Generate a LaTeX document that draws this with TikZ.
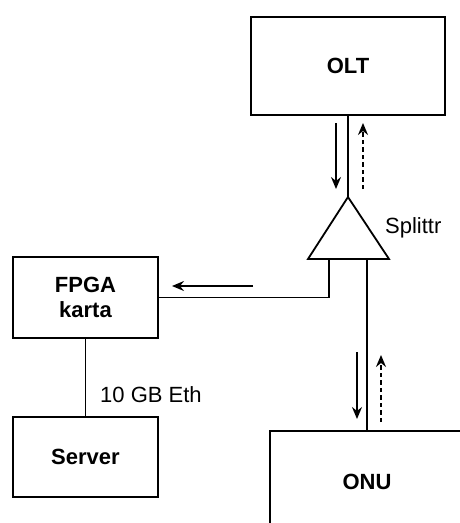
\documentclass[tikz,border=0pt]{standalone}
\usepackage{fontspec}
\setmainfont{Liberation Sans}
\usetikzlibrary{arrows.meta}
\pgfdeclarelayer{edgelayer}
\pgfdeclarelayer{nodelayer}
\pgfsetlayers{edgelayer,nodelayer,main}
\tikzset{font=\fontsize{22}{25}\selectfont}
\tikzstyle{none}=[inner sep=0pt]
\tikzstyle{box}=[draw,line width=1.8pt,inner sep=0pt,align=center,font=\fontsize{22}{25}\selectfont\bfseries]
\tikzstyle{wire}=[line width=1.8pt]
\tikzstyle{flow}=[line width=1.8pt,-{Stealth[length=12pt,width=10pt,inset=4pt]}]
\tikzstyle{back}=[flow,dash pattern=on 4.5pt off 3pt]

\begin{document}
\begin{tikzpicture}[x=1pt,y=-1pt]
	\useasboundingbox (0,0) rectangle (459,523);
	\clip (0,0) rectangle (459,523);
	\begin{pgfonlayer}{nodelayer}
		\node [style=box, minimum width=194pt, minimum height=98pt] (0) at (348, 66) {OLT};
		\node [style=box, minimum width=145pt, minimum height=81pt] (1) at (85.5, 297.5) {FPGA\\karta};
		\node [style=box, minimum width=145pt, minimum height=80pt] (2) at (85.5, 457) {Server};
		\node [style=box, minimum width=194pt, minimum height=102pt] (3) at (367, 482) {ONU};
		\node [style=none] (4) at (348, 197) {};
		\node [style=none] (5) at (308, 259) {};
		\node [style=none] (6) at (389, 259) {};
		\node [style=none] (7) at (329, 259) {};
		\node [style=none] (8) at (367, 259) {};
		\node [style=none, anchor=west] (9) at (385, 228) {Splittr};
		\node [style=none, anchor=west] (10) at (100, 395) {10 GB Eth};
		\coordinate (11) at (336, 123);
		\coordinate (12) at (336, 189);
		\coordinate (13) at (363, 189);
		\coordinate (14) at (363, 123);
		\coordinate (15) at (253, 286);
		\coordinate (16) at (172, 286);
		\coordinate (17) at (357, 352);
		\coordinate (18) at (357, 419);
		\coordinate (19) at (381, 422);
		\coordinate (20) at (381, 355);
	\end{pgfonlayer}
	\begin{pgfonlayer}{edgelayer}
		\draw [style=wire] (0.south) to (4.center);
		\draw [style=wire, line join=miter] (4.center) -- (5.center) -- (6.center) -- cycle;
		\draw [style=wire] (7.center) |- (1.east);
		\draw [style=wire] (8.center) to (3.north);
		\draw [style=wire] (1.south) to (2.north);
		\draw [style=flow] (11) to (12);
		\draw [style=back] (13) to (14);
		\draw [style=flow] (15) to (16);
		\draw [style=flow] (17) to (18);
		\draw [style=back] (19) to (20);
	\end{pgfonlayer}
\end{tikzpicture}
\end{document}
